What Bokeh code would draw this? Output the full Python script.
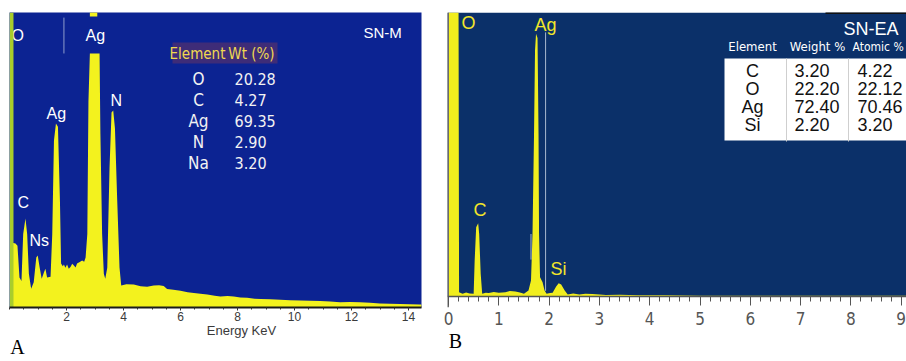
import numpy as np
from bokeh.plotting import figure
from bokeh.layouts import row
from bokeh.models import Range1d, FixedTicker, LinearAxis, BoxAnnotation
from bokeh.core.properties import value
from bokeh.embed import file_html
from bokeh.resources import INLINE

# ---------------- Panel A (SN-M) data ----------------
A_ENERGY = [0.10, 0.21, 0.28, 0.35, 0.42, 0.48, 0.56, 0.62, 0.68, 0.76, 0.85, 0.94, 0.99, 1.06, 1.13,
            1.21, 1.26, 1.32, 1.44, 1.50, 1.56, 1.63, 1.70, 1.77, 1.81, 1.87, 1.91, 1.96, 2.02, 2.08,
            2.14, 2.20, 2.26, 2.32, 2.37, 2.45, 2.55, 2.62, 2.67, 2.73, 2.77, 2.82, 3.16, 3.19, 3.25,
            3.31, 3.36, 3.43, 3.51, 3.58, 3.64, 3.70, 3.78, 3.86, 3.92, 4.10, 4.36, 4.60, 4.83, 5.06,
            5.25, 5.41, 5.53, 5.75, 6.00, 6.25, 6.47, 6.70, 6.94, 7.20, 7.40, 7.65, 7.87, 8.10, 8.34,
            8.60, 8.81, 9.15, 9.51, 9.85, 10.21, 10.55, 10.90, 11.25, 11.60, 11.95, 12.30, 12.65, 13.00,
            13.35, 13.70, 14.05, 14.40, 14.46]
A_COUNTS = [22.0, 21.8, 21.0, 10.2, 9.0, 25.0, 30.3, 25.0, 11.5, 6.4, 8.6, 17.0, 17.7, 13.5, 9.8,
            12.0, 13.2, 10.2, 10.5, 25.0, 56.8, 62.6, 61.5, 36.4, 15.0, 14.0, 14.6, 13.5, 14.6, 13.2,
            13.8, 14.9, 14.3, 13.6, 15.0, 15.4, 16.0, 15.6, 17.0, 25.0, 70.0, 86.4, 86.4, 59.0, 25.0,
            11.5, 9.8, 13.5, 47.6, 66.3, 67.0, 61.0, 36.4, 13.6, 7.5, 7.9, 7.8, 7.2, 7.1, 7.5,
            7.6, 7.3, 6.3, 6.0, 5.7, 5.2, 4.9, 4.7, 4.4, 4.0, 3.7, 3.9, 3.7, 3.4, 3.3,
            3.0, 2.9, 2.8, 2.6, 2.5, 2.4, 2.3, 2.2, 2.0, 1.8, 1.9, 1.8, 1.6, 1.4,
            1.3, 1.2, 1.1, 1.0, 1.0]
A_O_BAR = [0.0, 0.14]          # O peak, off scale
A_AG_CLIP = [2.82, 3.08]       # clipped top of Ag peak
A_AG_CLIP_Y = [99.0, 100.4]
A_MARKER_X = 1.91
A_MARKER_Y = [86.4, 98.6]
A_TICKS = [2, 4, 6, 8, 10, 12, 14]
A_TICK_LABELS = ["2", "4", "6", "8", "10", "12", "14"]
A_ELEMENTS = ["O", "C", "Ag", "N", "Na"]
A_WT = ["20.28", "4.27", "69.35", "2.90", "3.20"]

# ---------------- Panel B (SN-EA) data ----------------
B_ENERGY = [0.0, 0.20, 0.21, 0.28, 0.35, 0.42, 0.50, 0.52, 0.55, 0.59, 0.61, 0.64, 0.67, 0.74, 0.80,
            0.90, 1.00, 1.13, 1.22, 1.33, 1.42, 1.50, 1.59, 1.64, 1.67, 1.70, 1.72, 1.74, 1.77, 1.79,
            1.80, 1.82, 1.87, 1.91, 1.95, 2.02, 2.07, 2.14, 2.19, 2.24, 2.31, 2.37, 2.48, 2.60, 2.72,
            2.86, 3.00, 3.13, 3.40, 3.79, 4.30, 5.00, 6.00, 7.00, 8.00, 9.10]
B_COUNTS = [100, 100, 1.5, 1.0, 1.4, 1.1, 1.0, 12.7, 24.4, 25.8, 22.0, 8.0, 1.0, 1.3, 1.2,
            1.6, 1.3, 1.5, 1.9, 1.8, 1.4, 1.0, 2.1, 5.6, 22.0, 57.0, 86.6, 92.5, 91.0, 57.0,
            22.0, 6.8, 5.0, 2.1, 1.0, 1.2, 1.3, 3.5, 4.7, 4.2, 2.1, 0.7, 1.1, 0.7, 1.0,
            0.9, 0.7, 0.5, 0.6, 0.4, 0.4, 0.3, 0.3, 0.3, 0.3, 0.3]
B_MARKERS_X = [1.93, 1.64]
B_MARKERS_Y0 = [2.0, 13.0]
B_MARKERS_Y1 = [93.0, 22.0]
B_TICKS = [0, 1, 2, 3, 4, 5, 6, 7, 8, 9]
B_TICK_LABELS = ["0", "1", "2", "3", "4", "5", "6", "7", "8", "9"]
B_ELEMENTS = ["C", "O", "Ag", "Si"]
B_WEIGHT = ["3.20", "22.20", "72.40", "2.20"]
B_ATOMIC = ["4.22", "22.12", "70.46", "3.20"]

# ---------------- styles ----------------
A_BG = "#0c2392"
B_BG = "#0b3069"
A_YELLOW = "#f3f21e"
B_YELLOW = "#f1ee1e"
LABEL_YELLOW = "#f2e62a"
SANS = "Liberation Sans"
COND = "DejaVu Sans Condensed"
SERIF = "Liberation Serif"

# ---------------- geometry (picture pixel -> data helpers) ----------------
A_PX_PER_KEV = 28.5
A_FRAME_L, A_FRAME_R = 9, 421
FRAME_T, FRAME_B = 12, 307           # both frames share top/bottom (row aligns them)
A_DATA_T = 13                        # pixel of 100 % in panel A
B_PX_PER_KEV = 50.3
B_X0 = -0.02
B_FRAME_L = 447
B_BASE, B_TOP = 296, 12              # pixel rows of 0 % and 100 % in panel B


def ax(px):
    return (px - A_FRAME_L) / A_PX_PER_KEV


def ay(py):
    return (FRAME_B - py) / (FRAME_B - A_DATA_T) * 100


def bx(px):
    return B_X0 + (px - B_FRAME_L) / B_PX_PER_KEV


def by(py):
    return (B_BASE - py) / (B_BASE - B_TOP) * 100


def label_axis(p, ticks, labels, font, size, color, standoff):
    ticks = [round(t, 4) for t in ticks]
    a = LinearAxis(ticker=FixedTicker(ticks=ticks, minor_ticks=[]),
                   major_label_overrides={t: l for t, l in zip(ticks, labels)})
    a.axis_line_color = None
    a.major_tick_line_color = None
    a.minor_tick_line_color = None
    a.major_tick_out = 0
    a.major_tick_in = 0
    a.minor_tick_out = 0
    a.minor_tick_in = 0
    a.major_label_standoff = standoff
    a.major_label_text_font = font
    a.major_label_text_font_size = size
    a.major_label_text_color = color
    p.add_layout(a, "below")


# ================= Panel A =================
A_W, B_W, H = 440, 466, 361
pA = figure(width=A_W, height=H, output_backend="svg", toolbar_location=None,
            x_range=Range1d(0, (A_FRAME_R - A_FRAME_L) / A_PX_PER_KEV),
            y_range=Range1d(0, ay(FRAME_T)),
            min_border_left=A_FRAME_L, min_border_right=A_W - A_FRAME_R,
            min_border_top=FRAME_T, min_border_bottom=H - FRAME_B)
pA.background_fill_color = A_BG
pA.border_fill_color = "white"
pA.outline_line_color = None
pA.grid.visible = False
pA.yaxis.visible = False
xa = pA.xaxis[0]
xa.ticker = FixedTicker(ticks=A_TICKS, minor_ticks=list(np.arange(0, 14.5, 0.5)))
xa.major_label_overrides = {t: l for t, l in zip(A_TICKS, A_TICK_LABELS)}
xa.axis_line_color = "#1a1a1a"
xa.axis_line_width = 2
xa.major_tick_in = 0
xa.major_tick_out = 3
xa.minor_tick_in = 0
xa.minor_tick_out = 2
xa.major_tick_line_color = "#333333"
xa.minor_tick_line_color = "#333333"
xa.major_label_standoff = 1
xa.major_label_text_font = SANS
xa.major_label_text_font_size = "12px"
xa.major_label_text_color = "#3a3a3a"
label_axis(pA, [ax(241)], ["Energy KeV"], SANS, "13px", "#3a3a3a", -1)
label_axis(pA, [ax(17)], ["A"], SERIF, "20px", "black", -5)

# peak label "O" (partly hidden by the O bar)
pA.text(x=[ax(11)], y=[ay(35)], text=["O"], text_color="white", text_font=value(SANS),
        text_font_size="16px", text_baseline="middle", text_align="left")
pA.varea(x=A_ENERGY, y1=0, y2=A_COUNTS, fill_color=A_YELLOW)
pA.quad(left=[A_O_BAR[0]], right=[A_O_BAR[1]], bottom=[0], top=[ay(FRAME_T)],
        fill_color="#a9cd2c", line_color=None)
pA.quad(left=[A_AG_CLIP[0]], right=[A_AG_CLIP[1]], bottom=[A_AG_CLIP_Y[0]], top=[A_AG_CLIP_Y[1]],
        fill_color=A_YELLOW, line_color=None)
pA.segment(x0=[A_MARKER_X], x1=[A_MARKER_X], y0=[A_MARKER_Y[0]], y1=[A_MARKER_Y[1]],
           line_color="#8e9ccc", line_width=1)

pA.text(x=[ax(85), ax(46), ax(110), ax(17), ax(29)],
        y=[ay(35), ay(113), ay(100), ay(202), ay(240)],
        text=["Ag", "Ag", "N", "C", "Ns"], text_color="white", text_font=value(SANS),
        text_font_size="16px", text_baseline="middle", text_align="left")
pA.text(x=[ax(363)], y=[ay(32)], text=["SN-M"], text_color="white", text_font=value(SANS),
        text_font_size="15px", text_baseline="middle", text_align="left")

# Table A
pA.quad(left=[ax(172)], right=[ax(277)], top=[ay(42)], bottom=[ay(63)],
        fill_color="#3e2c78", line_color=None)
pA.text(x=[ax(197), ax(251)], y=[ay(53), ay(53)], text=["Element", "Wt (%)"],
        text_color="#f0d850", text_font=value(COND), text_font_size="15px",
        text_baseline="middle", text_align="center")
row_y = [ay(78 + 21 * i) for i in range(len(A_ELEMENTS))]
pA.text(x=[ax(198)] * len(A_ELEMENTS), y=row_y, text=A_ELEMENTS, text_color="#f2f2f2",
        text_font=value(COND), text_font_size="17px", text_baseline="middle", text_align="center")
pA.text(x=[ax(234)] * len(A_WT), y=row_y, text=A_WT, text_color="#f2f2f2",
        text_font=value(COND), text_font_size="16px", text_baseline="middle", text_align="left")

# ================= Panel B =================
pB = figure(width=B_W, height=H, output_backend="svg", toolbar_location=None,
            x_range=Range1d(B_X0, B_X0 + (A_W + B_W - B_FRAME_L) / B_PX_PER_KEV),
            y_range=Range1d(by(FRAME_B), by(FRAME_T)),
            min_border_left=B_FRAME_L - A_W, min_border_right=0,
            min_border_top=FRAME_T, min_border_bottom=H - FRAME_B)
pB.background_fill_color = "white"
pB.border_fill_color = "white"
pB.outline_line_color = None
pB.grid.visible = False
pB.yaxis.visible = False
pB.add_layout(BoxAnnotation(bottom=0, fill_color=B_BG, fill_alpha=1.0, line_color=None,
                            level="underlay"))
xb = pB.xaxis[0]
xb.fixed_location = 0
xb.ticker = FixedTicker(ticks=B_TICKS, minor_ticks=list(np.arange(0, 9.11, 0.2)))
xb.axis_line_color = "#555555"
xb.axis_line_width = 1.5
xb.major_tick_in = 0
xb.major_tick_out = 9
xb.minor_tick_in = 0
xb.minor_tick_out = 5
xb.major_tick_line_color = "#555555"
xb.minor_tick_line_color = "#555555"
xb.major_label_text_color = None
# tick labels of panel B (kept in the bottom panel, below the axis drawn at 0)
label_axis(pB, B_TICKS, B_TICK_LABELS, COND, "17px", "#555555", 4)
label_axis(pB, [bx(455)], ["B"], SERIF, "20px", "black", 2)

pB.varea(x=B_ENERGY, y1=0, y2=B_COUNTS, fill_color=B_YELLOW)
pB.segment(x0=B_MARKERS_X, x1=B_MARKERS_X, y0=B_MARKERS_Y0, y1=B_MARKERS_Y1,
           line_color="#a9b8cf", line_width=1)
pB.segment(x0=[B_X0], x1=[B_X0], y0=[by(FRAME_B)], y1=[100], line_color="#6b6b6b", line_width=3)
pB.segment(x0=[bx(825)], x1=[bx(906)], y0=[by(12.5)], y1=[by(12.5)], line_color="#111111",
           line_width=2)

pB.text(x=[bx(461), bx(534), bx(473), bx(550)], y=[by(22), by(24), by(209), by(268)],
        text=["O", "Ag", "C", "Si"], text_color=LABEL_YELLOW, text_font=value(SANS),
        text_font_size="18px", text_baseline="middle", text_align="left")
pB.text(x=[bx(843)], y=[by(28)], text=["SN-EA"], text_color="white", text_font=value(SANS),
        text_font_size="18px", text_baseline="middle", text_align="left")

# Table B
pB.quad(left=[bx(724)], right=[bx(906)], top=[by(58)], bottom=[by(140)],
        fill_color="white", line_color=None)
pB.segment(x0=[bx(786), bx(848)], x1=[bx(786), bx(848)], y0=[by(58)] * 2, y1=[by(141)] * 2,
           line_color="#cfcfcf", line_width=1)
pB.text(x=[bx(752), bx(817)], y=[by(46)] * 2, text=["Element", "Weight %"], text_color="white",
        text_font=value(COND), text_font_size="13px", text_baseline="middle", text_align="center")
pB.text(x=[bx(852)], y=[by(46)], text=["Atomic %"], text_color="white",
        text_font=value(COND), text_font_size="12px", text_baseline="middle", text_align="left")
brow_y = [by(70 + 18 * i) for i in range(len(B_ELEMENTS))]
pB.text(x=[bx(752)] * len(B_ELEMENTS), y=brow_y, text=B_ELEMENTS, text_color="#111111",
        text_font=value(SANS), text_font_size="18px", text_baseline="middle", text_align="center")
pB.text(x=[bx(794)] * len(B_WEIGHT), y=brow_y, text=B_WEIGHT, text_color="#111111",
        text_font=value(SANS), text_font_size="18px", text_baseline="middle", text_align="left")
pB.text(x=[bx(857)] * len(B_ATOMIC), y=brow_y, text=B_ATOMIC, text_color="#111111",
        text_font=value(SANS), text_font_size="18px", text_baseline="middle", text_align="left")

layout = row(pA, pB)
open("out.html", "w").write(file_html(layout, INLINE))
